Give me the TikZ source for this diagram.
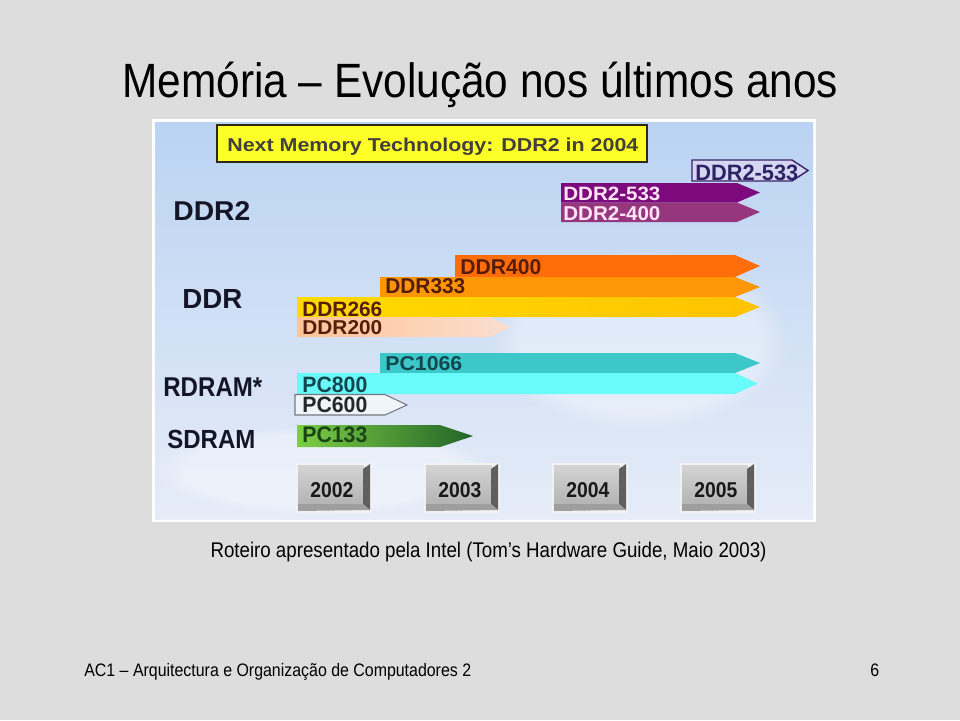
\documentclass[tikz,border=0pt]{standalone}
\usepackage{fontspec}
\setmainfont{Liberation Sans}[FakeStretch=0.88]
\newfontfamily\barfont{Liberation Sans}
\usepackage{graphicx}
\usetikzlibrary{fadings}
\newlength\pxu \setlength\pxu{0.02cm}
\newcommand\fitbox[3]{\resizebox{#1\pxu}{#2\pxu}{\barfont\bfseries #3}}
\definecolor{slidebg}{RGB}{221,221,221}
\definecolor{skytop}{RGB}{186,211,242}
\definecolor{skymid}{RGB}{212,227,246}
\definecolor{skybot}{RGB}{230,236,248}
\definecolor{ybox}{RGB}{255,255,40}
\definecolor{yline}{RGB}{45,40,20}
\definecolor{labnavy}{RGB}{20,22,40}
\definecolor{dtwoline}{RGB}{55,35,105}
\definecolor{dtwofill}{RGB}{214,214,242}
\definecolor{dtwotext}{RGB}{45,35,100}
\definecolor{purpA}{RGB}{125,10,125}
\definecolor{purpB}{RGB}{150,55,125}
\definecolor{pinktext}{RGB}{255,228,246}
\definecolor{orA}{RGB}{255,108,10}
\definecolor{orB}{RGB}{255,150,5}
\definecolor{yelL}{RGB}{255,218,0}
\definecolor{yelR}{RGB}{255,195,0}
\definecolor{peachL}{RGB}{255,195,150}
\definecolor{peachR}{RGB}{250,222,208}
\definecolor{brtext}{RGB}{85,30,10}
\definecolor{tealA}{RGB}{60,200,200}
\definecolor{cyanB}{RGB}{105,250,250}
\definecolor{tealtext}{RGB}{20,70,80}
\definecolor{pcsixfill}{RGB}{238,246,250}
\definecolor{pcsixline}{RGB}{120,120,130}
\definecolor{grL}{RGB}{125,205,70}
\definecolor{grR}{RGB}{35,100,40}
\definecolor{grtext}{RGB}{25,70,20}
\definecolor{btnhi}{RGB}{212,212,212}
\definecolor{btnlo}{RGB}{180,180,180}
\definecolor{btndark}{RGB}{95,95,95}
\definecolor{btnbot}{RGB}{158,158,158}
\tikzset{
  lab/.style={inner sep=0pt, anchor=base west},
  slidetext/.style={inner sep=0pt, text=black},
  cloud/.style={fill=white, opacity=0.35, path fading=circle with fuzzy edge 20 percent},
}
\newcommand\yearbtn[3]{%
  \fill[white!90!gray] (#1-2,463) rectangle (#1+74,513);
  \shade[top color=btnhi, bottom color=btnlo] (#1,465) rectangle (#1+66,504);
  \fill[btndark] (#1+65,469) -- (#1+72,464) -- (#1+72,510) -- (#1+65,504) -- cycle;
  \fill[btnbot] (#1,504) -- (#1+65,504) -- (#1+72,510) -- (#1,511) -- cycle;
  \node[lab] (#2) at (#1+12,497) {\fitbox{43}{15}{\color{black!90}#3}};
}
\begin{document}
\begin{tikzpicture}[x=0.02cm,y=-0.02cm]
\useasboundingbox (0,0) rectangle (960,720);
\fill[slidebg] (0,0) rectangle (960,720);
% picture frame and sky
\fill[white] (152,119) rectangle (816,522);
\shade[top color=skytop, middle color=skymid, bottom color=skybot] (155,122) rectangle (813,519);
\fill[cloud] (640,340) ellipse (150 and 90);
\fill[cloud] (320,470) ellipse (170 and 45);
% yellow box
\draw[fill=ybox, draw=yline, line width=0.9pt] (217,125) rectangle (647,162);
\node[lab] (next) at (227,151) {\fitbox{411}{13.5}{\color{black!85!yellow}Next Memory Technology: DDR2 in 2004}};
% row labels
\node[lab] (lddr2) at (173,220) {\fitbox{77}{19}{\color{labnavy}DDR2}};
\node[lab] (lddr) at (182,308) {\fitbox{60}{19}{\color{labnavy}DDR}};
\node[lab] (lrdram) at (163,396.7) {\fitbox{99}{18.7}{\color{labnavy}RDRAM*}};
\node[lab] (lsdram) at (167,448.3) {\fitbox{88}{18.3}{\color{labnavy}SDRAM}};
% DDR2 bars
\draw[fill=dtwofill, draw=dtwoline, line width=0.8pt] (692,160) -- (792,160) -- (808,170.5) -- (792,181) -- (692,181) -- cycle;
\node[lab] (ddr2b) at (695,180) {\fitbox{103}{15.5}{\color{dtwotext}DDR2-533}};
\fill[purpA] (561,183) -- (737,183) -- (760,192.5) -- (737,202.5) -- (561,202.5) -- cycle;
\node[lab] (ddr2a) at (563,200) {\fitbox{97}{13.5}{\color{pinktext}DDR2-533}};
\fill[purpB] (561,202.5) -- (737,202.5) -- (760,212) -- (737,222) -- (561,222) -- cycle;
\node[lab] (ddr2c) at (563,220.5) {\fitbox{97}{14}{\color{pinktext}DDR2-400}};
% DDR bars
\fill[orA] (455,255) -- (735,255) -- (760,266) -- (735,277) -- (455,277) -- cycle;
\node[lab] (d400) at (460,274) {\fitbox{81}{15}{\color{brtext}DDR400}};
\fill[orB] (380,277) -- (735,277) -- (760,287) -- (735,297) -- (380,297) -- cycle;
\node[lab] (d333) at (385,293) {\fitbox{80}{15}{\color{brtext}DDR333}};
\shade[left color=yelL, right color=yelR] (297,297) -- (735,297) -- (760,307) -- (735,317) -- (297,317) -- cycle;
\node[lab] (d266) at (302,316) {\fitbox{80}{14.5}{\color{brtext}DDR266}};
\shade[left color=peachL, right color=peachR] (297,317) -- (490,317) -- (510,327) -- (490,337) -- (297,337) -- cycle;
\node[lab] (d200) at (302,334) {\fitbox{80}{14}{\color{brtext}DDR200}};
% RDRAM bars
\fill[tealA] (380,353) -- (735,353) -- (760,363) -- (735,373) -- (380,373) -- cycle;
\node[lab] (pc1066) at (385,370.7) {\fitbox{77}{14}{\color{tealtext}PC1066}};
\fill[cyanB] (297,373) -- (735,373) -- (758,383.5) -- (735,394) -- (297,394) -- cycle;
\node[lab] (pc800) at (302,392.5) {\fitbox{65}{15.5}{\color{tealtext}PC800}};
\draw[fill=pcsixfill, draw=pcsixline, line width=0.6pt] (295,394.5) -- (385,394.5) -- (407,405) -- (385,415) -- (295,415) -- cycle;
\node[lab] (pc600) at (302,412.5) {\fitbox{65}{15.5}{\color{black!85}PC600}};
% SDRAM bar
\shade[left color=grL, right color=grR] (297,425) -- (440,425) -- (473,436) -- (440,447) -- (297,447) -- cycle;
\node[lab] (pc133) at (302,442.7) {\fitbox{65}{15.7}{\color{grtext}PC133}};
% year buttons
\yearbtn{298}{y2002}{2002}
\yearbtn{426}{y2003}{2003}
\yearbtn{554}{y2004}{2004}
\yearbtn{682}{y2005}{2005}
% slide texts
\node[slidetext, anchor=base west] (title) at (122,97) {\fontsize{27.4}{32}\selectfont Memória – Evolução nos últimos anos};
\node[slidetext, anchor=base] (caption) at (488.5,557) {\fontsize{12.1}{14}\selectfont Roteiro apresentado pela Intel (Tom’s Hardware Guide, Maio 2003)};
\node[slidetext, anchor=base west] (footer) at (84,676) {\fontsize{10.3}{13}\selectfont AC1 – Arquitectura e Organização de Computadores 2};
\node[slidetext, anchor=base west] (pagenum) at (870,676) {\fontsize{10.3}{13}\selectfont 6};
\end{tikzpicture}
\end{document}
